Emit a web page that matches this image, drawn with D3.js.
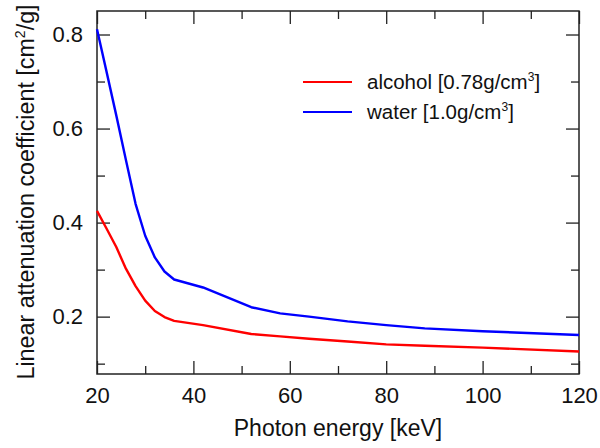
<!DOCTYPE html>
<html>
<head>
<meta charset="utf-8">
<script src="https://cdn.jsdelivr.net/npm/d3@7"></script>
<style>
  body { margin: 0; background: #fff; }
  text { font-family: "Liberation Sans", Arial, sans-serif; fill: #111; }
</style>
</head>
<body>
<svg id="chart" width="600" height="448"></svg>
<script>
// photon energy [keV]
var energy = [20, 22, 24, 26, 28, 30, 32, 34, 36, 42, 52, 58, 64, 72, 80, 88, 100, 120];
// linear attenuation coefficient [cm2/g]
var water   = [0.811, 0.72, 0.628, 0.533, 0.44, 0.372, 0.326, 0.296, 0.279, 0.262, 0.220, 0.207, 0.200, 0.190, 0.182, 0.175, 0.169, 0.161];
var alcohol = [0.425, 0.387, 0.348, 0.302, 0.265, 0.234, 0.212, 0.199, 0.191, 0.182, 0.163, 0.158, 0.153, 0.147, 0.141, 0.138, 0.134, 0.126];

var xMajor = [20, 40, 60, 80, 100, 120];
var xMinor = [30, 50, 70, 90, 110];
var yMajor = [0.2, 0.4, 0.6, 0.8];
var yMinor = [0.1, 0.3, 0.5, 0.7];

var series = [
  {name: "alcohol [0.78g/cm", sup: "3", tail: "]", values: alcohol, color: "#ff0000"},
  {name: "water [1.0g/cm", sup: "3", tail: "]", values: water, color: "#0000ff"}
];

var margin = {left: 97, right: 21, top: 11, bottom: 74};
var svg = d3.select("#chart");
var w = 600 - margin.left - margin.right,
    h = 448 - margin.top - margin.bottom;

var g = svg.append("g").attr("transform", "translate(" + margin.left + "," + margin.top + ")");

var x = d3.scaleLinear().domain([20, 120]).range([0, w]);
var y = d3.scaleLinear().domain([0.078, 0.85]).range([h, 0]);

function styleAxis(sel){
  sel.select(".domain").remove();
  sel.selectAll("line").attr("stroke", "#222").attr("stroke-width", 1.3);
  sel.selectAll("text").style("font-size", "22px").attr("fill", "#111")
     .style("font-family", "Liberation Sans, Arial, sans-serif");
}

// bottom
g.append("g").attr("transform", "translate(0," + h + ")")
  .call(d3.axisBottom(x).tickValues(xMajor).tickSize(-13).tickPadding(13).tickFormat(d3.format("d")))
  .call(styleAxis);
g.append("g").attr("transform", "translate(0," + h + ")")
  .call(d3.axisBottom(x).tickValues(xMinor).tickSize(-8).tickFormat(""))
  .call(styleAxis);
// top
g.append("g")
  .call(d3.axisTop(x).tickValues(xMajor).tickSize(-13).tickFormat(""))
  .call(styleAxis);
g.append("g")
  .call(d3.axisTop(x).tickValues(xMinor).tickSize(-8).tickFormat(""))
  .call(styleAxis);
// left
g.append("g")
  .call(d3.axisLeft(y).tickValues(yMajor).tickSize(-13).tickPadding(14).tickFormat(d3.format(".1f")))
  .call(styleAxis);
g.append("g")
  .call(d3.axisLeft(y).tickValues(yMinor).tickSize(-8).tickFormat(""))
  .call(styleAxis);
// right
g.append("g").attr("transform", "translate(" + w + ",0)")
  .call(d3.axisRight(y).tickValues(yMajor).tickSize(-13).tickFormat(""))
  .call(styleAxis);
g.append("g").attr("transform", "translate(" + w + ",0)")
  .call(d3.axisRight(y).tickValues(yMinor).tickSize(-8).tickFormat(""))
  .call(styleAxis);

g.append("rect").attr("width", w).attr("height", h)
  .attr("fill", "none").attr("stroke", "#222").attr("stroke-width", 1.5);

var line = d3.line()
  .x(function(d, i){ return x(energy[i]); })
  .y(function(d){ return y(d); });

series.forEach(function(s){
  g.append("path").datum(s.values)
    .attr("d", line)
    .attr("fill", "none")
    .attr("stroke", s.color)
    .attr("stroke-width", 2.4)
    .attr("stroke-linejoin", "round");
});

// legend
var lg = g.append("g").attr("transform", "translate(206,71)");
series.forEach(function(s, i){
  var row = lg.append("g").attr("transform", "translate(0," + (i * 30) + ")");
  row.append("line").attr("x1", 0).attr("x2", 49).attr("y1", 0).attr("y2", 0)
    .attr("stroke", s.color).attr("stroke-width", 2);
  var t = row.append("text").attr("x", 64).attr("y", 7).style("font-size", "20.5px");
  t.append("tspan").text(s.name);
  t.append("tspan").attr("dy", -8).style("font-size", "12px").text(s.sup);
  t.append("tspan").attr("dy", 8).text(s.tail);
});

// axis titles
svg.append("text")
  .attr("x", margin.left + w / 2).attr("y", 436)
  .attr("text-anchor", "middle").style("font-size", "23px")
  .text("Photon energy [keV]");

var yt = svg.append("text")
  .attr("transform", "translate(34,192) rotate(-90)")
  .attr("text-anchor", "middle").style("font-size", "23.3px");
yt.append("tspan").text("Linear attenuation coefficient [cm");
yt.append("tspan").attr("dy", -9).style("font-size", "14px").text("2");
yt.append("tspan").attr("dy", 9).text("/g]");
</script>
</body>
</html>
